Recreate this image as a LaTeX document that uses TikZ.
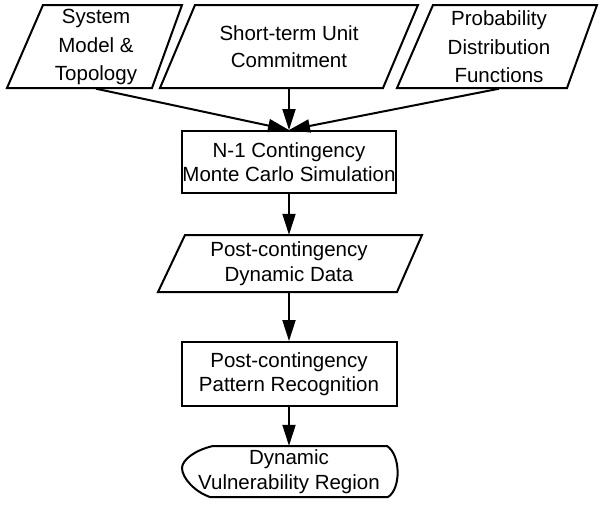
\documentclass[tikz,border=0pt]{standalone}
\usepackage{fontspec}
\setmainfont{Liberation Sans}
\usetikzlibrary{arrows.meta}
\begin{document}
\begin{tikzpicture}[x=1pt,y=-1pt,
  txt/.style={align=center,inner sep=0pt,font=\fontsize{20.5}{24.5}\selectfont},
  toptxt/.style={align=center,inner sep=0pt,font=\fontsize{20.5}{28.5}\selectfont,minimum height=83pt},
  shp/.style={draw,line width=2pt,line join=miter},
  boxnode/.style={txt,draw,line width=2pt},
  arr/.style={line width=2pt,-{Triangle[length=21pt,width=13pt]}}]
\useasboundingbox (0,0) rectangle (600,504);

% top row inputs
\node[toptxt] (sys) at (96,47) {System\\Model \&\\Topology};
\draw[shp] (43,5) -- (182,5) -- (152,88) -- (7,88) -- cycle;

\node[toptxt,font=\fontsize{20.5}{27}\selectfont] (uc) at (289,46.5) {Short-term Unit\\Commitment};
\draw[shp] (195,5) -- (418,5) -- (383,88) -- (160,88) -- cycle;

\node[toptxt] (pdf) at (499,47) {Probability\\Distribution\\Functions};
\draw[shp] (433,5) -- (597,5) -- (567,88) -- (397,88) -- cycle;

% simulation box
\node[boxnode,minimum width=211pt,minimum height=62pt] (mc) at (289,162) {N-1 Contingency\\Monte Carlo Simulation};

% post-contingency data
\node[txt,minimum height=57pt] (pdd) at (289,263.5) {Post-contingency\\Dynamic Data};
\draw[shp] (185,235) -- (422,235) -- (397,292) -- (158,292) -- cycle;

% pattern recognition
\node[boxnode,minimum width=215pt,minimum height=64pt] (pr) at (289,374) {Post-contingency\\Pattern Recognition};

% display shape
\node[txt,minimum height=51pt] (dvr) at (289,471.5) {Dynamic\\Vulnerability Region};
\draw[shp] (213,446) -- (387,446) .. controls (401,455) and (401,489) .. (388,497) -- (210,497) .. controls (195,492) and (182,478) .. (182,468) .. controls (182,460) and (195,450) .. (213,446) -- cycle;

% connectors
\draw[arr] (sys.south) -- (mc.north);
\draw[arr] (uc.south) -- (mc.north);
\draw[arr] (pdf.south) -- (mc.north);
\draw[arr] (mc.south) -- (pdd.north);
\draw[arr] (pdd.south) -- (pr.north);
\draw[arr] (pr.south) -- (dvr.north);
\end{tikzpicture}
\end{document}
